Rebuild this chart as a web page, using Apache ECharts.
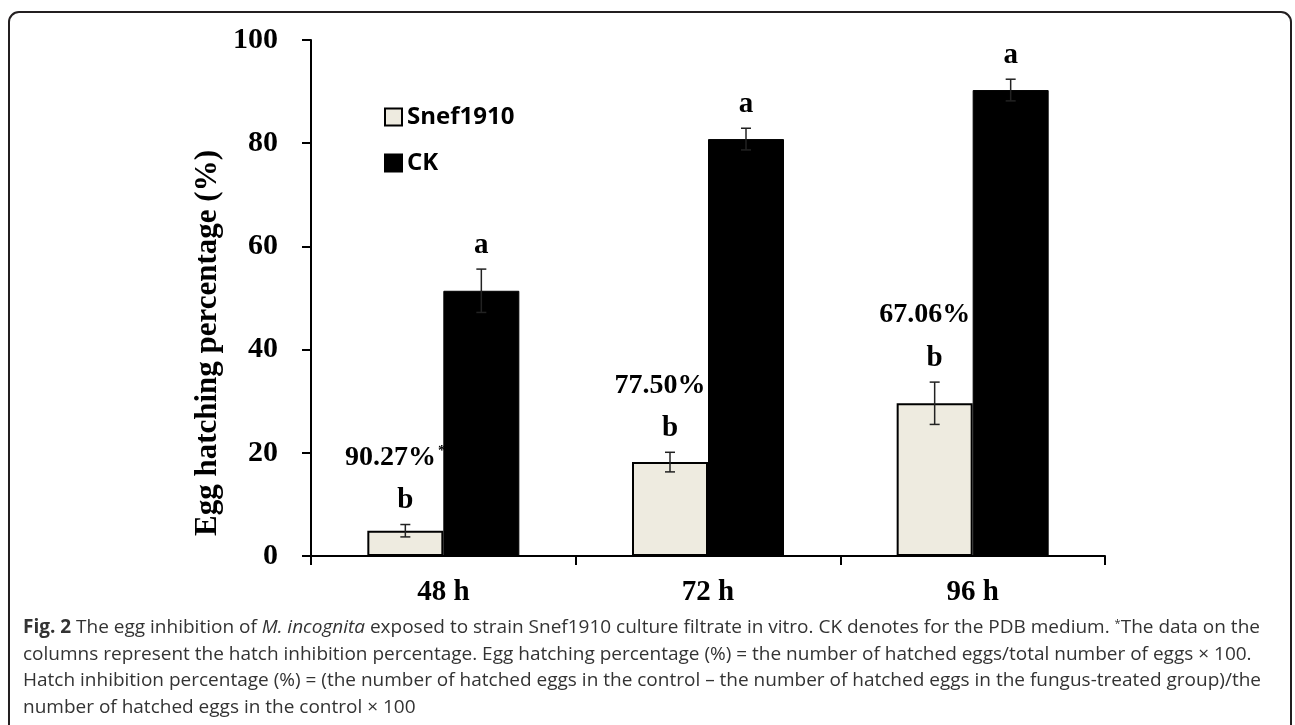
<!DOCTYPE html>
<html>
<head>
<meta charset="utf-8">
<script src="https://cdn.jsdelivr.net/npm/echarts@6/dist/echarts.min.js"></script>
<style>
    html, body {margin: 0; padding: 0; background: #fff;}
    #chart {width: 1295px; height: 725px;}
</style>
</head>
<body>
<div id="chart"></div>
<script>
// 数据
var categories = ['48 h', '72 h', '96 h'];
var yTicks = [0, 20, 40, 60, 80, 100];
var snefValues = [4.9, 18.2, 29.6];
var snefErr = [1.2, 1.9, 4.1];
var ckValues = [51.4, 80.8, 90.3];
var ckErr = [4.2, 2.1, 2.1];
var snefLetters = ['b', 'b', 'b'];
var ckLetters = ['a', 'a', 'a'];
var inhibitLabels = ['90.27%', '77.50%', '67.06%'];
var inhibitMarks = ['*', '', ''];
var yName = 'Egg hatching percentage (%)';

var captionLines = [
    '{b|Fig. 2} The egg inhibition of {i|M. incognita} exposed to strain Snef1910 culture filtrate in vitro. CK denotes for the PDB medium. {s|*}The data on the',
    'columns represent the hatch inhibition percentage. Egg hatching percentage (%) = the number of hatched eggs/total number of eggs \u00d7 100.',
    'Hatch inhibition percentage (%) = (the number of hatched eggs in the control \u2013 the number of hatched eggs in the fungus-treated group)/the',
    'number of hatched eggs in the control \u00d7 100'
];

var serif = '"Liberation Serif", "Times New Roman", serif';
var capFont = '"Open Sans", sans-serif';
var barW = 76;

var chart = echarts.init(document.getElementById('chart'));

// 误差线 + 字母 + 抑制率
function errData(vals, errs, letters, side) {
    var out = [];
    for (var i = 0; i < vals.length; i++) {
        out.push([i, vals[i], errs[i], letters[i], side,
            side < 0 ? inhibitLabels[i] : '', side < 0 ? inhibitMarks[i] : '']);
    }
    return out;
}

function renderErr(params, api) {
    var idx = api.value(0);
    var v = api.value(1);
    var e = api.value(2);
    var side = api.value(4);
    var c = api.coord([idx, v]);
    var x = c[0] + side * barW / 2;
    var yTop = api.coord([idx, v + e])[1];
    var yBot = api.coord([idx, v - e])[1];
    var cap = 5;
    var lineStyle = {stroke: '#222', lineWidth: 1.5};
    var children = [
        {type: 'line', shape: {x1: x, y1: yTop, x2: x, y2: yBot}, style: lineStyle},
        {type: 'line', shape: {x1: x - cap, y1: yTop, x2: x + cap, y2: yTop}, style: lineStyle},
        {type: 'line', shape: {x1: x - cap, y1: yBot, x2: x + cap, y2: yBot}, style: lineStyle},
        {type: 'text', style: {
            text: api.value(3), x: x, y: yTop - 24, align: 'center', verticalAlign: 'middle',
            font: 'bold 29px ' + serif, fill: '#000'
        }}
    ];
    var pct = api.value(5);
    if (pct) {
        var mark = api.value(6);
        children.push({type: 'text', style: {
            text: '{p|' + pct + '}' + (mark ? '{s|' + mark + '}' : ''),
            x: x - 10, y: yTop - 67, align: 'center', verticalAlign: 'middle',
            rich: {
                p: {font: 'bold 28px ' + serif, fill: '#000', verticalAlign: 'middle'},
                s: {font: 'bold 15px ' + serif, fill: '#000', verticalAlign: 'top', padding: [0, 0, 12, 2]}
            }
        }});
    }
    return {type: 'group', children: children};
}

var option = {
    animation: false,
    backgroundColor: '#fff',
    grid: {left: 311, right: 190, top: 40, bottom: 169},
    legend: {
        orient: 'vertical',
        left: 379,
        top: 100,
        icon: 'rect',
        itemWidth: 17,
        itemHeight: 17,
        itemGap: 22,
        data: ['Snef1910', 'CK'],
        textStyle: {fontFamily: '"Open Sans", sans-serif', fontWeight: 'bold', fontSize: 24, color: '#000'}
    },
    xAxis: {
        type: 'category',
        data: categories,
        axisLine: {lineStyle: {color: '#000', width: 2}},
        axisTick: {show: true, length: 9, lineStyle: {color: '#000', width: 2}},
        axisLabel: {margin: 22, fontFamily: serif, fontWeight: 'bold', fontSize: 29, color: '#000'}
    },
    yAxis: {
        type: 'value',
        min: yTicks[0],
        max: yTicks[yTicks.length - 1],
        interval: yTicks[1] - yTicks[0],
        axisLine: {show: true, lineStyle: {color: '#000', width: 2}},
        axisTick: {show: true, length: 9, lineStyle: {color: '#000', width: 2}},
        splitLine: {show: false},
        axisLabel: {margin: 33, fontFamily: serif, fontWeight: 'bold', fontSize: 30, color: '#000'}
    },
    series: [
        {
            name: 'Snef1910',
            type: 'bar',
            barWidth: barW,
            barGap: '0%',
            itemStyle: {color: '#eeebe0', borderColor: '#000', borderWidth: 2},
            data: snefValues
        },
        {
            name: 'CK',
            type: 'bar',
            barWidth: barW,
            barGap: '0%',
            itemStyle: {color: '#000', borderColor: '#000', borderWidth: 1},
            data: ckValues
        },
        {
            type: 'custom',
            renderItem: renderErr,
            z: 10,
            data: errData(snefValues, snefErr, snefLetters, -1)
        },
        {
            type: 'custom',
            renderItem: renderErr,
            z: 10,
            data: errData(ckValues, ckErr, ckLetters, 1)
        }
    ],
    graphic: [
        {
            type: 'rect',
            shape: {x: 9, y: 12, width: 1282, height: 760, r: 10},
            style: {fill: 'none', stroke: '#231f20', lineWidth: 2},
            silent: true
        },
        {
            // 纵轴标题
            type: 'text',
            x: 208,
            y: 343,
            rotation: Math.PI / 2,
            style: {
                text: yName, align: 'center', verticalAlign: 'middle',
                font: 'bold 31px ' + serif, fill: '#000'
            }
        }
    ]
};

// 图注
captionLines.forEach(function (line, i) {
    option.graphic.push({
        type: 'text',
        left: 23,
        top: 618 + i * 26.7,
        style: {
            text: line,
            font: '19px ' + capFont,
            fill: '#333',
            rich: {
                b: {font: 'bold 19px ' + capFont, fill: '#333'},
                i: {font: 'italic 19px ' + capFont, fill: '#333'},
                s: {font: '11px ' + capFont, fill: '#333', verticalAlign: 'top', padding: [0, 0, 8, 0]}
            }
        }
    });
});

chart.setOption(option);
window.addEventListener('resize', function () {
    chart.resize();
});
</script>
</body>
</html>
